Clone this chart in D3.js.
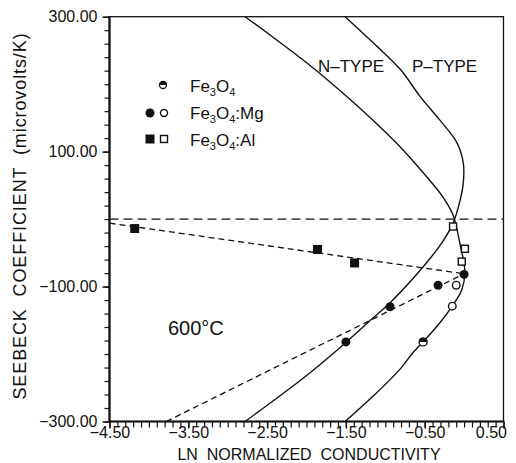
<!DOCTYPE html>
<html>
<head>
<meta charset="utf-8">
<script src="https://cdn.jsdelivr.net/npm/d3@7"></script>
<style>
body { margin: 0; background: #fff; }
svg text { font-family: "Liberation Sans", Arial, sans-serif; fill: #111; white-space: pre; }
</style>
</head>
<body>
<div class="jonker-chart"></div>
<script>
// theoretical Jonker curves, [ln sigma, seebeck]
var curveOne = [[-2.78, 300], [-2.43, 270], [-1.99, 231], [-1.58, 191], [-1.16, 147], [-0.81, 107], [-0.47, 62],
	[-0.27, 33], [-0.14, 6], [-0.05, -38], [-0.01, -60], [0.01, -80], [-0.03, -105], [-0.14, -127], [-0.31, -154],
	[-0.52, -182], [-0.65, -198], [-0.81, -222], [-1.15, -262], [-1.51, -300]]
var curveTwo = [[-2.78, -300], [-2.43, -270], [-1.99, -231], [-1.58, -191], [-1.16, -147], [-0.94, -124], [-0.50, -68],
	[-0.27, -33], [-0.14, -6], [-0.05, 28], [-0.01, 54], [-0.01, 83], [-0.09, 113], [-0.31, 147], [-0.56, 182],
	[-0.81, 222], [-1.16, 262], [-1.51, 300]]

// measured points
var fe3o4 = [[-0.52, -182]]
var mgFilled = [[0.0, -82], [-0.33, -98], [-0.94, -130], [-1.50, -182]]
var mgOpen = [[-0.10, -98], [-0.15, -129]]
var alFilled = [[-4.18, -14], [-1.86, -45], [-1.39, -65]]
var alOpen = [[0.01, -44], [-0.03, -63], [-0.14, -11]]

// dashed lines
var zeroLine = [[-4.5, 0], [0.5, 0]]
var alLine = [[-4.5, -6], [0.0, -81]]
var mgLine = [[-3.78, -300], [0.0, -81]]

var xTickLabels = [-4.5, -3.5, -2.5, -1.5, -0.5, 0.5]
var yTickLabels = [300, 100, -100, -300]

var margin = { top: 16.7, right: 12.5, bottom: 41.5, left: 109.5 },
	width = 516 - margin.left - margin.right,
	height = 463 - margin.top - margin.bottom;

var svg = d3.select('.jonker-chart').append("svg")
	.attr("width", 516)
	.attr("height", 463);

var g = svg.append("g")
	.attr("transform", "translate(" + margin.left + "," + margin.top + ")");

var x = d3.scaleLinear().domain([-4.5, 0.5]).range([0, width])
var y = d3.scaleLinear().domain([-300, 300]).range([height, 0])

var fmt = d3.format(".2f")

// axes: minor ticks first, then labelled ones
g.append("g")
	.attr("transform", "translate(0," + height + ")")
	.call(d3.axisBottom(x).tickValues(d3.range(-45, 6).map(d => d / 10)).tickSize(6).tickFormat(""))
	.call(a => a.select(".domain").remove())
	.selectAll("line").attr("stroke", "#111").attr("stroke-width", 1.2)

g.append("g")
	.attr("transform", "translate(0," + height + ")")
	.call(d3.axisBottom(x).tickValues(xTickLabels).tickSize(7).tickFormat(fmt))
	.call(a => a.select(".domain").remove())
	.call(a => a.selectAll("line").attr("stroke", "#111").attr("stroke-width", 1.5))
	.call(a => a.selectAll("text").attr("font-size", 16).attr("y", 5).style("fill", "#111"))
	.call(a => a.selectAll(".tick").filter(d => d == 0.5).select("text").attr("text-anchor", "end").attr("x", 3))

g.append("g")
	.call(d3.axisLeft(y).tickValues(d3.range(-300, 301, 20)).tickSize(5).tickFormat(""))
	.call(a => a.select(".domain").remove())
	.selectAll("line").attr("stroke", "#111").attr("stroke-width", 1.2)

g.append("g")
	.call(d3.axisLeft(y).tickValues(yTickLabels).tickSize(7).tickPadding(5).tickFormat(fmt))
	.call(a => a.select(".domain").remove())
	.call(a => a.selectAll("line").attr("stroke", "#111").attr("stroke-width", 1.5))
	.call(a => a.selectAll("text").attr("font-size", 16).style("fill", "#111"))

// frame
g.append("rect")
	.attr("width", width).attr("height", height)
	.attr("fill", "none").attr("stroke", "#111").attr("stroke-width", 1.3)
g.append("line").attr("x1", 0).attr("x2", 0).attr("y1", 0).attr("y2", height)
	.attr("stroke", "#111").attr("stroke-width", 2.2)
g.append("line").attr("x1", 0).attr("x2", width).attr("y1", height).attr("y2", height)
	.attr("stroke", "#111").attr("stroke-width", 2.2)

var line = d3.line().x(d => x(d[0])).y(d => y(d[1]))
var smooth = d3.line().x(d => x(d[0])).y(d => y(d[1])).curve(d3.curveCatmullRom.alpha(0.5))

g.append("defs").append("clipPath").attr("id", "plotClip")
	.append("rect").attr("width", width).attr("height", height)

var plot = g.append("g").attr("clip-path", "url(#plotClip)")

plot.selectAll(".curve")
	.data([curveOne, curveTwo])
	.enter().append("path")
	.attr("class", "curve")
	.attr("d", smooth)
	.attr("fill", "none").attr("stroke", "#111").attr("stroke-width", 1.4)

plot.append("path").datum(zeroLine).attr("d", line)
	.attr("fill", "none").attr("stroke", "#111").attr("stroke-width", 1.4).attr("stroke-dasharray", "9,5")
plot.selectAll(".fit")
	.data([alLine, mgLine])
	.enter().append("path")
	.attr("class", "fit")
	.attr("d", line)
	.attr("fill", "none").attr("stroke", "#111").attr("stroke-width", 1.3).attr("stroke-dasharray", "6,4")

// symbols
function halfCircle(sel, r) {
	sel.append("circle").attr("r", r).attr("fill", "#fff").attr("stroke", "#111").attr("stroke-width", 1.3)
	sel.append("path")
		.attr("d", d3.arc()({ innerRadius: 0, outerRadius: r, startAngle: -Math.PI / 2, endAngle: Math.PI / 2 }))
		.attr("fill", "#111")
}

g.selectAll(".fe")
	.data(fe3o4)
	.enter().append("g")
	.attr("transform", d => "translate(" + x(d[0]) + "," + y(d[1]) + ")")
	.each(function () { halfCircle(d3.select(this), 4) })

g.selectAll(".mgf")
	.data(mgFilled)
	.enter().append("circle")
	.attr("cx", d => x(d[0])).attr("cy", d => y(d[1])).attr("r", 4.5).attr("fill", "#111")

g.selectAll(".mgo")
	.data(mgOpen)
	.enter().append("circle")
	.attr("cx", d => x(d[0])).attr("cy", d => y(d[1])).attr("r", 3.8)
	.attr("fill", "#fff").attr("stroke", "#111").attr("stroke-width", 1.4)

g.selectAll(".alf")
	.data(alFilled)
	.enter().append("rect")
	.attr("x", d => x(d[0]) - 4.5).attr("y", d => y(d[1]) - 4.5).attr("width", 9).attr("height", 9).attr("fill", "#111")

g.selectAll(".alo")
	.data(alOpen)
	.enter().append("rect")
	.attr("x", d => x(d[0]) - 3.5).attr("y", d => y(d[1]) - 3.5).attr("width", 7).attr("height", 7)
	.attr("fill", "#fff").attr("stroke", "#111").attr("stroke-width", 1.4)

// legend
var legend = svg.append("g")
function chem(y0, suffix) {
	var txt = legend.append("text").attr("x", 190).attr("y", y0).attr("font-size", 17)
	txt.append("tspan").text("Fe")
	txt.append("tspan").attr("font-size", 11).attr("dy", 4).text("3")
	txt.append("tspan").attr("dy", -4).text("O")
	txt.append("tspan").attr("font-size", 11).attr("dy", 4).text("4")
	if (suffix) txt.append("tspan").attr("dy", -4).text(suffix)
}
chem(92, "")
chem(119, ":Mg")
chem(146, ":Al")
halfCircle(legend.append("g").attr("transform", "translate(163,85)"), 3.5)
legend.append("circle").attr("cx", 150).attr("cy", 113).attr("r", 4.5).attr("fill", "#111")
legend.append("circle").attr("cx", 164).attr("cy", 113).attr("r", 3.5)
	.attr("fill", "#fff").attr("stroke", "#111").attr("stroke-width", 1.4)
legend.append("rect").attr("x", 145.5).attr("y", 134.5).attr("width", 9).attr("height", 9).attr("fill", "#111")
legend.append("rect").attr("x", 160.5).attr("y", 135.5).attr("width", 7).attr("height", 7)
	.attr("fill", "#fff").attr("stroke", "#111").attr("stroke-width", 1.4)

// annotations
svg.append("text").attr("x", 318).attr("y", 72).attr("font-size", 17).text("N\u2013TYPE")
svg.append("text").attr("x", 412).attr("y", 72).attr("font-size", 17).text("P\u2013TYPE")
svg.append("text").attr("x", 168).attr("y", 335).attr("font-size", 20).text("600\u00B0C")

svg.append("text")
	.attr("x", 309).attr("y", 460).attr("text-anchor", "middle").attr("font-size", 16)
	.text("LN  NORMALIZED  CONDUCTIVITY")

svg.append("text")
	.attr("transform", "translate(26,216) rotate(-90)").attr("text-anchor", "middle").attr("font-size", 18)
	.attr("letter-spacing", 0.9)
	.text("SEEBECK  COEFFICIENT  (microvolts/K)")
</script>
</body>
</html>
